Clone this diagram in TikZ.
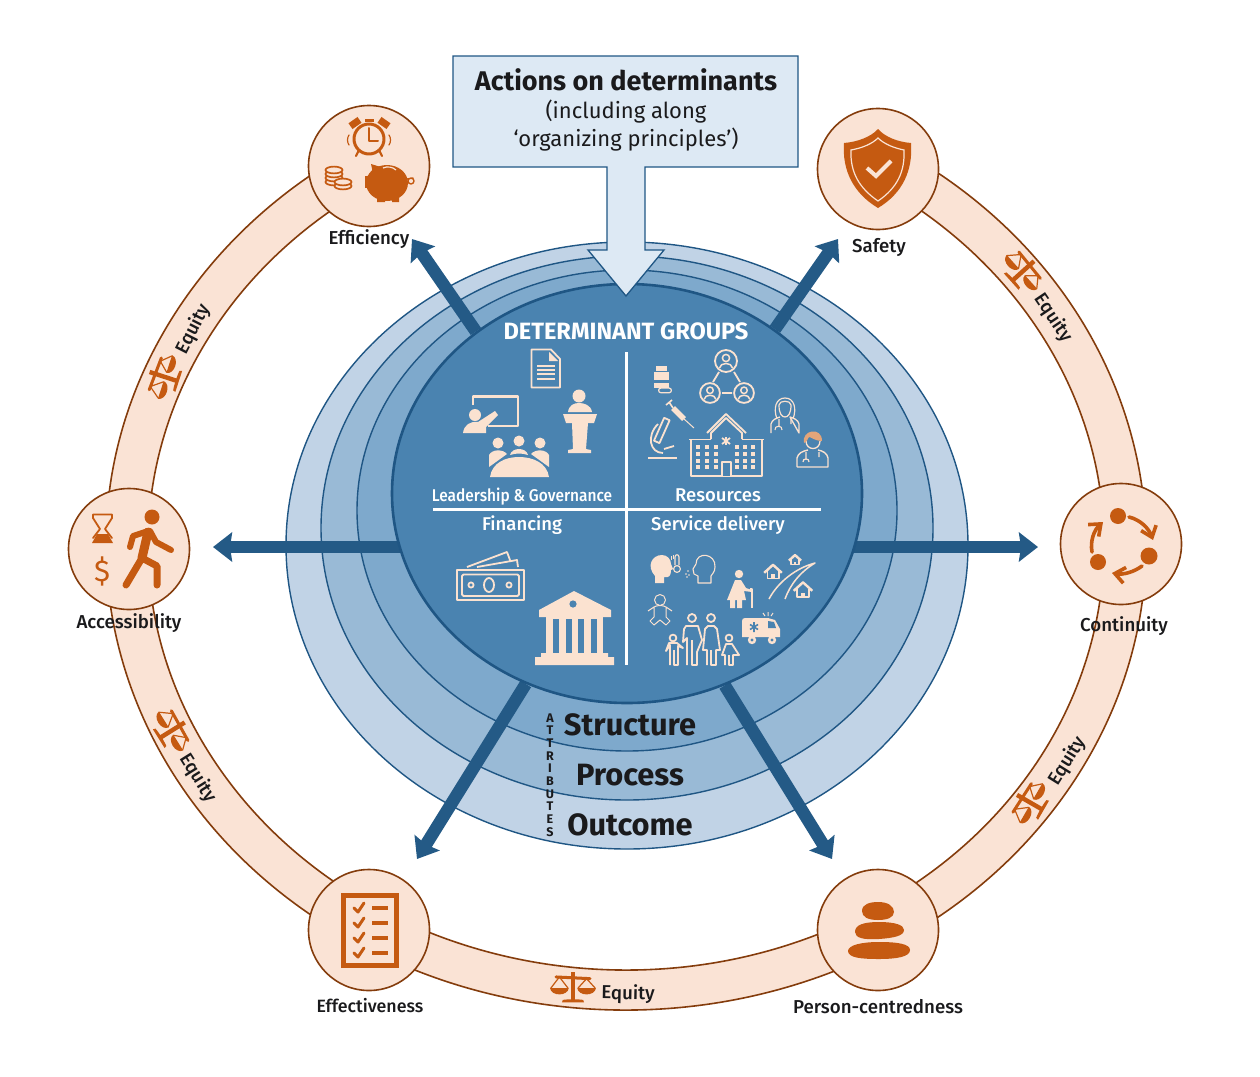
\documentclass[tikz,border=0pt]{standalone}
\usepackage{fontspec}
\usepackage{xcolor}
\setmainfont{Fira Sans}
\newfontfamily\medfont{Fira Sans Medium}
\usetikzlibrary{shapes.geometric,arrows.meta,positioning,backgrounds}
\definecolor{peach}{RGB}{250,227,213}
\definecolor{rust}{RGB}{132,60,12}
\definecolor{burnt}{RGB}{197,90,17}
\definecolor{cream}{RGB}{251,226,208}
\definecolor{navy}{RGB}{36,90,134}
\definecolor{edgeblue}{RGB}{31,86,132}
\definecolor{coreblue}{RGB}{74,131,176}
\definecolor{layerc}{RGB}{126,169,204}
\definecolor{layerb}{RGB}{153,186,214}
\definecolor{layera}{RGB}{193,211,230}
\definecolor{boxblue}{RGB}{221,233,244}
\definecolor{ink}{RGB}{26,26,28}
\tikzset{
    layer/.style={ellipse, draw=edgeblue, line width=1.4pt, inner sep=0pt},
    attr/.style={circle, draw=rust, line width=1.6pt, fill=peach, minimum size=121pt, inner sep=0pt},
    attrlabel/.style={text=ink, font=\medfont\fontsize{18.7}{22}\selectfont, inner sep=0pt},
    grouplabel/.style={text=white, font=\medfont\fontsize{18.5}{22}\selectfont, inner sep=0pt},
    tierlabel/.style={text=ink, font=\bfseries\fontsize{30.8}{34}\selectfont, inner sep=0pt},
    spoke/.style={draw=navy, line width=12.5pt, -{Stealth[length=19pt,width=29pt,inset=2pt]}},
    divider/.style={draw=white, line width=3pt},
    ico/.style={fill=burnt, draw=none},
    icoline/.style={draw=burnt, fill=none, line cap=round, line join=round},
    cr/.style={fill=cream, draw=none},
    crline/.style={draw=cream, fill=none, line width=1.8pt, line join=round},
    scales/.pic={
        \fill[ico] (-2.6,-19) rectangle (2.6,14);
        \fill[ico] (-13,17) -- (-12,14) .. controls (-6,13) and (6,13) .. (12,14) -- (13,17) -- cycle;
        \draw[icoline,line width=3pt] (-20,-13) -- (20,-11);
        \draw[icoline,line width=1.2pt] (-26,0) -- (-16,-13) -- (-6,0) (6,0) -- (16,-11) -- (26,0);
        \fill[ico] (-27,0) .. controls (-26,10) and (-6,10) .. (-5,0) -- cycle;
        \fill[ico] (5,0) .. controls (6,10) and (26,10) .. (27,0) -- cycle;
    },
    netperson/.pic={
        \draw[crline] (0,0) circle (11);
        \draw[crline,line width=1.5pt] (0,-3) circle (3.6);
        \draw[crline,line width=1.5pt] (-6.5,7) .. controls (-6,1) and (6,1) .. (6.5,7);
    },
    house/.pic={
        \draw[crline,line width=1.8pt] (-7,-1) -- (-7,8) -- (7,8) -- (7,-1);
        \draw[crline,line width=2.4pt] (-11,1) -- (0,-9) -- (11,1);
        \fill[cr] (-2,3) rectangle (2,8);
    },
}
\begin{document}
\begin{tikzpicture}[x=1pt,y=-1pt]
    \useasboundingbox (0,0) rectangle (1260,1076);
    \coordinate (ringc) at (626,545);
    \path (ringc) ++(238:478 and 425) coordinate (ringin);

    \node[layer, fill=coreblue, line width=2.6pt, minimum width=470pt, minimum height=419pt] (core) at (627,493.5) {};
    \coordinate (tipeff) at (412,239);
    \coordinate (tipsaf) at (838,239);
    \coordinate (tipacc) at (213,547);
    \coordinate (tipcon) at (1038,547);
    \coordinate (tipeft) at (417,859);
    \coordinate (tippcc) at (832,859);

    \begin{scope}[on background layer]
        \draw[fill=peach, draw=rust, line width=1.6pt] (ringc) ++(-58:520 and 465)
            arc[start angle=-58, end angle=238, x radius=520, y radius=465]
            -- (ringin) arc[start angle=238, end angle=-58, x radius=478, y radius=425] -- cycle;
        \node[layer, fill=layera, minimum width=682pt, minimum height=607pt] (outcomeL) at (627,545.5) {};
        \node[layer, fill=layerb, minimum width=612pt, minimum height=544pt] (processL) at (627,528) {};
        \node[layer, fill=layerc, minimum width=540pt, minimum height=481pt] (structureL) at (627,510.5) {};
        \draw[spoke] (core.133) -- (tipeff);
        \draw[spoke] (core.48) -- (tipsaf);
        \draw[spoke] (core.200 |- tipacc) -- (tipacc);
        \draw[spoke] (core.340 |- tipcon) -- (tipcon);
        \draw[spoke] (core.242) -- (tipeft);
        \draw[spoke] (core.297) -- (tippcc);
    \end{scope}

    \draw[divider] (626,352) -- (626,665);
    \draw[divider] (433,509) -- (821,509);

    \draw[fill=boxblue, draw=edgeblue, line width=1.3pt] (453,56) -- (798,56) -- (798,167) -- (645,167) -- (645,250) -- (664,250)
        -- (626,296) -- (588,250) -- (607,250) -- (607,167) -- (453,167) -- cycle;
    \node[text=ink, font=\bfseries\fontsize{27}{30}\selectfont, inner sep=0pt] (actions) at (626,80) {Actions on determinants};
    \node[text=ink, font=\fontsize{22}{28}\selectfont, align=center, inner sep=0pt] (actionsub) at (626,126) {(including along\\‘organizing principles’)};

    \node[text=white, font=\bfseries\fontsize{23.6}{26}\selectfont, inner sep=0pt] (groups) at (626,331) {DETERMINANT GROUPS};
    \node[grouplabel, xscale=.91, transform shape] (leader) at (522,497) {\fontsize{17}{20}\selectfont Leadership \& Governance};
    \node[grouplabel] (resources) at (718,495) {Resources};
    \node[grouplabel] (financing) at (522,525) {Financing};
    \node[grouplabel] (delivery) at (718,525) {Service delivery};

    \node[tierlabel] (structure) at (630,725) {Structure};
    \node[tierlabel] (process) at (630,775) {Process};
    \node[tierlabel] (outcome) at (630,825) {Outcome};
    \node[text=ink, font=\bfseries\fontsize{12.5}{12.7}\selectfont, align=center, inner sep=0pt] (attributes) at (550,775)
        {A\\T\\T\\R\\I\\B\\U\\T\\E\\S};

    \node[attr] (efficiency) at (369,166) {};
    \node[attr] (safety) at (878,169) {};
    \node[attr] (continuity) at (1121,544) {};
    \node[attr] (person) at (878,930) {};
    \node[attr] (effectiveness) at (369,930) {};
    \node[attr] (accessibility) at (129,549) {};

    \node[attrlabel] (efficiencyL) at (369,239) {Efficiency};
    \node[attrlabel] (safetyL) at (879,247) {Safety};
    \node[attrlabel] (continuityL) at (1124,626) {Continuity};
    \node[attrlabel] (personL) at (878,1007) {Person-centredness};
    \node[attrlabel, font=\medfont\fontsize{17.8}{22}\selectfont] (effectivenessL) at (370,1006) {Effectiveness};
    \node[attrlabel] (accessibilityL) at (129,623) {Accessibility};

    \node[attrlabel, rotate=63] (equityA) at (193,329) {Equity};
    \node[attrlabel, rotate=-56] (equityB) at (1053,318) {Equity};
    \node[attrlabel, rotate=-58] (equityC) at (198,778) {Equity};
    \node[attrlabel, rotate=-1] (equityD) at (628,994) {Equity};
    \node[attrlabel, rotate=58] (equityE) at (1067,761) {Equity};
    \pic[rotate=72, scale=.85] at (165,377) {scales};
    \pic[rotate=-48, scale=.85] at (1022,272) {scales};
    \pic[rotate=-58, scale=.85] at (171,731) {scales};
    \pic[scale=.85] at (573,988) {scales};
    \pic[rotate=60, scale=.85] at (1031,803) {scales};

    % efficiency
    \draw[icoline, line width=3pt] (369,139) circle (15);
    \draw[icoline, line width=2pt] (369,128) -- (369,141) -- (378,141);
    \fill[ico, rotate around={35:(355,123)}] (349.5,119.5) rectangle (360.5,126.5);
    \fill[ico, rotate around={-35:(384,123)}] (378.5,119.5) rectangle (389.5,126.5);
    \fill[ico] (365,119) rectangle (374,121.5);
    \draw[icoline, line width=2.2pt] (359,150) -- (356,156) (379,150) -- (382,156);
    \draw[icoline, line width=1.2pt] (349,135) .. controls (347,138) and (347,142) .. (349,145) (389,135) .. controls (391,138) and (391,142) .. (389,145);
    \fill[ico] (387,183) ellipse (21 and 18);
    \fill[ico] (371,164) -- (384,168) -- (374,178) -- cycle;
    \fill[ico] (365,176) rectangle (372,188);
    \fill[ico] (377,195) rectangle (385,202) (392,195) rectangle (399,202);
    \draw[draw=peach, line width=1.2pt] (383,168) .. controls (387,166) and (393,167) .. (396,170);
    \draw[icoline, line width=1.4pt] (407,179) -- (413,178) (411,181) circle (3);
    \foreach \yy in {182,178,174,170}
        \draw[fill=peach, draw=burnt, line width=1.7pt] (334,\yy) ellipse (8.5 and 3.4);
    \foreach \yy in {186,182}
        \draw[fill=peach, draw=burnt, line width=1.7pt] (343,\yy) ellipse (8.5 and 3.4);

    % safety
    \fill[ico] (878,129) .. controls (885,137) and (898,142) .. (911,143) .. controls (913,170) and (903,193) .. (878,208)
        .. controls (853,193) and (842,170) .. (844,143) .. controls (857,142) and (871,137) .. (878,129) -- cycle;
    \draw[draw=peach, line width=1.2pt] (878,138) .. controls (884,144) and (894,148) .. (904,150) .. controls (905,172) and (897,188) .. (878,201)
        .. controls (859,188) and (850,172) .. (851,150) .. controls (862,148) and (872,144) .. (878,138) -- cycle;
    \draw[draw=peach, line width=4pt] (867,168) -- (876,176) -- (891,161);

    % accessibility
    \draw[icoline, line width=1.8pt] (93,514.5) -- (112,514.5) -- (112,518) -- (105,529) -- (112,538) (93,514.5) -- (93,518) -- (100,529) -- (93,538);
    \fill[ico] (92,543) -- (97,534) -- (108,534) -- (113,543) -- cycle;
    \node[text=burnt, font=\fontsize{30}{30}\selectfont, inner sep=0pt] (dollar) at (102,571) {\$};
    \fill[ico] (152,517) circle (7.5);
    \draw[icoline, line width=9pt] (148,532) -- (142,558);
    \draw[icoline, line width=7pt] (142,558) -- (126,585) (142,558) -- (157,566) -- (157,585);
    \draw[icoline, line width=6pt] (148,531) -- (133,536) -- (130,547) (150,531) -- (156,542) -- (171,550);

    % continuity
    \fill[ico] (1118,516) circle (8) (1149,556) circle (8.5) (1098,562) circle (8);
    \draw[icoline, line width=3.6pt, -{Straight Barb[length=10pt,width=16pt]}] (1129,517) .. controls (1141,520) and (1149,529) .. (1153,540);
    \draw[icoline, line width=3.6pt, -{Straight Barb[length=10pt,width=16pt]}] (1142,566) .. controls (1134,572) and (1123,575) .. (1112,573);
    \draw[icoline, line width=3.6pt, -{Straight Barb[length=10pt,width=16pt]}] (1092,552) .. controls (1090,541) and (1094,530) .. (1103,522);

    % person-centredness
    \fill[ico] (862,911) .. controls (862,904) and (870,902) .. (878,902) .. controls (888,902) and (894,906) .. (894,912) .. controls (894,918) and (886,920) .. (878,920) .. controls (868,920) and (862,917) .. (862,911) -- cycle;
    \fill[ico] (855,932) .. controls (855,925) and (863,922) .. (879,922) .. controls (895,922) and (904,925) .. (904,930) .. controls (904,936) and (893,938) .. (879,939) .. controls (864,940) and (855,938) .. (855,932) -- cycle;
    \fill[ico] (848,951) .. controls (848,945) and (862,942) .. (879,942) .. controls (898,942) and (910,944) .. (910,950) .. controls (910,957) and (896,959) .. (879,959) .. controls (862,959) and (848,958) .. (848,951) -- cycle;

    % effectiveness
    \draw[draw=burnt, line width=5pt] (343.5,895.5) rectangle (396.5,965.5);
    \foreach \yy in {908,923,938,953} {
        \draw[icoline, line width=3pt] (354,\yy) -- (358,\yy+4) -- (364,\yy-5);
        \draw[draw=burnt, line width=3.4pt] (372,\yy) -- (388,\yy);
    }

    % leadership
    \draw[crline] (531.5,349.5) -- (551,349.5) -- (560,359) -- (560,387.5) -- (531.5,387.5) -- cycle;
    \fill[cr] (549,352) -- (558,361) -- (549,361) -- cycle;
    \foreach \yy in {366,370,374,379}
        \draw[cr, draw=cream, line width=1.4pt] (537,\yy) -- (555,\yy);
    \draw[crline, line width=2.6pt] (473,405) -- (473,396.5) -- (518,396.5) -- (518,426) -- (488,426);
    \fill[cr] (475,415) circle (6);
    \fill[cr] (463,433) .. controls (464,425) and (470,421) .. (478,422) -- (495,411) -- (498,415) -- (486,427) -- (486,433) -- cycle;
    \fill[cr] (579,396) circle (6.5);
    \fill[cr] (568,412) .. controls (569,405) and (574,403) .. (579,403) .. controls (584,403) and (591,405) .. (592,412) -- cycle;
    \fill[cr] (563,414) -- (597,414) -- (594,423) -- (588,423) -- (586,449) -- (591,450) -- (591,453) -- (568,453) -- (568,450) -- (573,449) -- (572,423) -- (566,423) -- cycle;
    \fill[cr] (490,477) .. controls (492,463) and (505,457) .. (519,457) .. controls (533,457) and (547,463) .. (549,477) -- cycle;
    \fill[cr] (498,443) circle (5.5) (519,441) circle (5.5) (540,443) circle (5.5);
    \fill[cr] (489,467) -- (489,455) .. controls (492,449) and (503,449) .. (507,454) -- cycle;
    \fill[cr] (549,467) -- (549,455) .. controls (546,449) and (535,449) .. (531,454) -- cycle;
    \fill[cr] (510,455) .. controls (512,447) and (526,447) .. (528,455) .. controls (522,453) and (516,453) .. (510,455) -- cycle;

    % resources
    \pic at (726,361) {netperson};
    \pic[scale=.9] at (710,393) {netperson};
    \pic[scale=.9] at (744,393) {netperson};
    \draw[crline] (719,372) -- (713,382) (734,372) -- (740,382) (722,393) -- (732,393);
    \fill[cr] (656,366) rectangle (667,371);
    \fill[cr] (654,372) rectangle (669,380);
    \fill[cr] (654,383) rectangle (669,388);
    \draw[crline, fill=coreblue, line width=1.2pt] (661,388) -- (669,388) arc[start angle=-90, end angle=90, radius=2.4] -- (661,392.8) arc[start angle=90, end angle=270, radius=2.4] -- cycle;
    \draw[crline, line width=5.5pt] (673,408) -- (684,419);
    \draw[crline, line width=1pt] (684,419) -- (694,428);
    \draw[crline, line width=1.6pt] (669,402) -- (673,408) (666,405) -- (672,400);
    \draw[crline] (648,458) -- (677,458);
    \draw[crline] (658,424) .. controls (646,436) and (650,453) .. (663,453);
    \draw[crline, rotate around={-24:(662,430)}] (659,418) rectangle (665,443);
    \draw[crline] (664,449) -- (674,446);
    \fill[cr] (726,441) ++(-1,-4) rectangle ++(2,8);
    \draw[cr, draw=cream, line width=1.8pt] (722,438) -- (730,444) (730,438) -- (722,444);
    \draw[crline] (691,440) -- (691,476) -- (762,476) -- (762,440) (689,439.5) -- (711,439.5) (742,439.5) -- (764,439.5);
    \draw[crline] (711,439) -- (711,433) -- (726,418) -- (742,433) -- (742,439) (707,433) -- (726,414) -- (746,433);
    \draw[crline, fill=coreblue] (722,476) -- (722,462) -- (731,462) -- (731,476);
    \foreach \xx in {698,707,716,737,745,753}
        \foreach \yy in {447,454,461,467}
            \fill[cr] (\xx-2.2,\yy-2.2) rectangle (\xx+2.2,\yy+2.2);
    \draw[crline, line width=1.2pt] (779,405) .. controls (779,400) and (791,400) .. (791,405) .. controls (791,414) and (788,417) .. (785,417) .. controls (782,417) and (779,414) .. (779,405) -- cycle;
    \draw[crline, line width=1.2pt] (777,419) .. controls (773,408) and (776,398) .. (785,398) .. controls (794,398) and (797,408) .. (793,419);
    \draw[crline, line width=1.3pt] (771,433) -- (771,424) .. controls (772,420) and (776,418) .. (780,417) (790,417) .. controls (794,418) and (798,420) .. (799,424) -- (799,433) -- cycle;
    \draw[crline, line width=1.1pt] (779,419) -- (779,426) (775,430) .. controls (774,425) and (783,425) .. (782,430) (791,419) -- (791,424);
    \draw[crline, line width=1.3pt] (806,441) .. controls (806,451) and (820,451) .. (820,441);
    \fill[draw=none, fill=burnt!45!cream] (804,443) .. controls (801,430) and (822,426) .. (822,441) .. controls (815,441) and (811,437) .. (809,437) .. controls (808,438) and (807,442) .. (804,443) -- cycle;
    \draw[crline, line width=1.4pt] (797,467) -- (797,458) .. controls (798,453) and (803,451) .. (808,450) (818,450) .. controls (823,451) and (827,453) .. (828,458) -- (828,467) -- (797,467);
    \draw[crline, line width=1.2pt] (806,452) -- (806,459) (803,462) .. controls (802,458) and (810,458) .. (809,462) (819,452) -- (819,457);

    % financing
    \draw[crline] (457,570) rectangle (524,600);
    \draw[crline, rounded corners=1.5pt] (462,574.5) rectangle (519,596);
    \draw[crline] (489,585) ellipse (5 and 7) (471,585) circle (2.6) (509,585) circle (2.6);
    \draw[crline] (467,567) -- (507,552) -- (510,560) (477,567) -- (517,560) -- (518,567);
    \fill[cr] (574,591) -- (611,610) -- (611,617) -- (539,617) -- (539,610) -- cycle;
    \fill[coreblue] (573,604) circle (3.6);
    \fill[cr] (546,617) rectangle (603,653);
    \foreach \xx in {553,566,578,591}
        \fill[coreblue] (\xx,619) rectangle (\xx+5.5,653);
    \fill[cr] (541,653) rectangle (608,657) (535,657) -- (614,657) -- (614,665) -- (535,665) -- cycle;

    % service delivery
    \fill[cr] (655,583) -- (655,576) .. controls (646,566) and (652,555) .. (662,555) .. controls (667,555) and (671,559) .. (671,564) -- (673,569) -- (671,570) .. controls (671,576) and (669,578) .. (664,577) -- (664,583) -- cycle;
    \draw[crline, line width=1.1pt] (675,565) -- (675,557) .. controls (675,554) and (679,554) .. (679,557) -- (679,565) (677,569) circle (3.4);
    \draw[crline, line width=1pt] (671,556) -- (671,560) (673,555) -- (673,559);
    \draw[crline, line width=1.1pt] (698,583) -- (698,576) -- (694,574) -- (693,569) -- (696,564) .. controls (696,551) and (716,553) .. (715,567) .. controls (715,572) and (712,574) .. (711,576) -- (711,583) -- cycle;
    \fill[cr] (688,571) circle (.9) (686,574) circle (.9) (689,575) circle (.9) (687,577) circle (.9);
    \fill[cr] (739,574) circle (4.2);
    \fill[cr] (735,580) -- (741,580) -- (746,588) -- (752,590) -- (752,592) -- (744,591) -- (746,600) -- (742,600) -- (742,608) -- (737,608) -- (737,600) -- (735,600) -- (735,608) -- (730,608) -- (730,600) -- (727,600) -- cycle;
    \draw[crline, line width=1.3pt] (750,589) -- (752,589) -- (752,608);
    \draw[crline, line width=1.5pt] (769,599) .. controls (778,582) and (796,568) .. (815,563) .. controls (800,572) and (790,585) .. (785,599);
    \pic[scale=.8] at (773,572) {house};
    \pic[scale=.55] at (795,560) {house};
    \pic[scale=.85] at (803,590) {house};
    \draw[crline, line width=1pt] (660,600) circle (5.5);
    \draw[crline, line width=1pt] (654,607) .. controls (657,605) and (663,605) .. (666,607) -- (672,611) (654,607) -- (648,611) (654,607) -- (654,617) -- (650,621) -- (654,625) -- (660,620) -- (666,625) -- (670,621) -- (666,617) -- (666,607);
    \draw[crline] (692,618) circle (4) (711,618) circle (4) (673,638) circle (3.4) (729,638) circle (3.4);
    \draw[crline] (687,665) -- (687,638) -- (683,642) -- (684,629) -- (686,626) -- (698,626) -- (702,640) -- (697,652) -- (697,665) -- (692,665) -- (692,640);
    \draw[crline] (707,665) -- (707,650) -- (703,650) -- (705,629) -- (708,626) -- (714,626) -- (717,629) -- (720,650) -- (716,650) -- (716,665) -- (711,665) -- (711,650);
    \draw[crline] (670,665) -- (670,645) -- (666,651) -- (669,643) -- (677,643) -- (683,648) -- (678,646) -- (678,665) -- (674,665) -- (674,650);
    \draw[crline] (725,665) -- (725,655) -- (722,655) -- (726,644) -- (732,644) -- (739,655) -- (733,655) -- (733,665) -- (729,665) -- (729,655);
    \fill[cr] (742,621) .. controls (742,619) and (743,618) .. (745,618) -- (768,618) -- (775,620) -- (780,629) -- (780,637) -- (742,637) -- cycle;
    \fill[cr] (752,640) circle (4.2) (772,640) circle (4.2);
    \fill[coreblue] (752,640) circle (1.6) (772,640) circle (1.6);
    \fill[coreblue] (768,621) -- (774,622) -- (776,628) -- (768,628) -- cycle;
    \draw[draw=coreblue, line width=1.6pt] (754,622) -- (754,632) (750,624.5) -- (758,629.5) (758,624.5) -- (750,629.5);
    \draw[crline, line width=1pt] (768,612) -- (768,616) (763,613) -- (765,616) (773,613) -- (771,616);
\end{tikzpicture}
\end{document}
